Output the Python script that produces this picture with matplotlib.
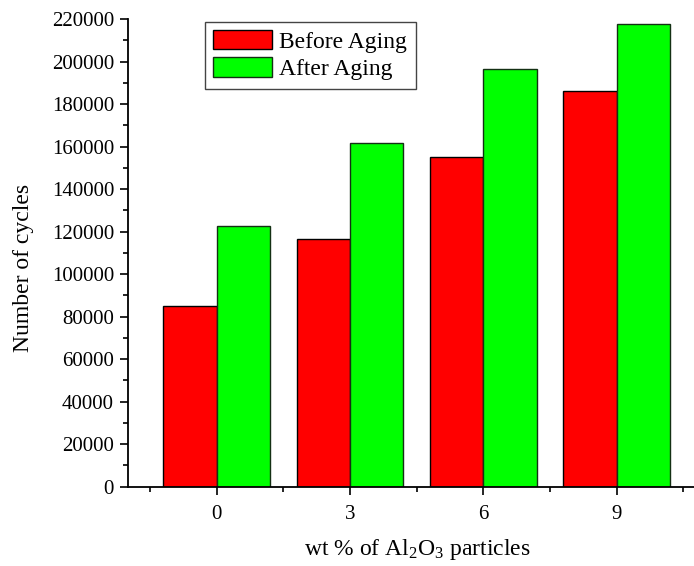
import matplotlib
matplotlib.use("Agg")
import matplotlib.pyplot as plt
from matplotlib.ticker import MultipleLocator, FixedLocator
import numpy as np

# Fatigue life data
categories = ["0", "3", "6", "9"]
before_aging = [85000, 116500, 155000, 186000]
after_aging = [122500, 161800, 196500, 217500]
series_names = ["Before Aging", "After Aging"]

plt.rcParams["font.family"] = ["Liberation Serif", "DejaVu Serif"]
plt.rcParams["mathtext.fontset"] = "custom"
plt.rcParams["mathtext.rm"] = "Liberation Serif"
plt.rcParams["mathtext.it"] = "Liberation Serif:italic"
plt.rcParams["mathtext.default"] = "regular"

W, H = 694, 566
fig = plt.figure(figsize=(W / 100, H / 100), dpi=100)

# axes frame in pixels (the right end runs past the figure edge)
left_px, right_px = 128, 705.3
bottom_px, top_px = 486.7, 19
ax = fig.add_axes([left_px / W, 1 - bottom_px / H,
                   (right_px - left_px) / W, (bottom_px - top_px) / H])

x = np.arange(len(categories))
width = 0.4
ax.bar(x - width / 2, before_aging, width, color="#ff0000",
       edgecolor="black", linewidth=1.0, label=series_names[0])
ax.bar(x + width / 2, after_aging, width, color="#00ff00",
       edgecolor="#143014", linewidth=1.0, label=series_names[1])

ax.set_xlim(-0.665, 3.665)
ax.set_ylim(0, 220000)

ax.set_xticks(x)
ax.set_xticklabels(categories)
ax.xaxis.set_minor_locator(FixedLocator([-0.5, 0.5, 1.5, 2.5, 3.5]))
ax.yaxis.set_major_locator(MultipleLocator(20000))
ax.yaxis.set_minor_locator(MultipleLocator(10000))

for side in ("top", "right"):
    ax.spines[side].set_visible(False)
for side in ("left", "bottom"):
    ax.spines[side].set_linewidth(1.3)

ax.tick_params(which="major", direction="out", length=6, width=1.2,
               labelsize=15, pad=4)
ax.tick_params(axis="x", which="major", pad=7)
ax.tick_params(which="minor", direction="out", length=3.5, width=1.2)

ax.set_ylabel("Number of cycles", fontsize=17)
ax.set_xlabel(r"wt % of Al$_2$O$_3$ particles", fontsize=17)
ax.yaxis.set_label_coords(24 / W, 1 - 268 / H, transform=fig.transFigure)
ax.xaxis.set_label_coords(417 / W, 1 - 550 / H, transform=fig.transFigure)
ax.yaxis.label.set_va("center")
ax.xaxis.label.set_va("center")

leg = ax.legend(loc="upper left", bbox_to_anchor=(205 / W, 1 - 21.7 / H),
                bbox_transform=fig.transFigure, fontsize=17,
                frameon=True, fancybox=False, framealpha=1,
                edgecolor="#444444", borderaxespad=0, borderpad=0.35,
                handlelength=2.5, handleheight=0.88, handletextpad=0.3,
                labelspacing=0.2)
leg.get_frame().set_linewidth(1.0)

fig.savefig("out.png", dpi=100)
